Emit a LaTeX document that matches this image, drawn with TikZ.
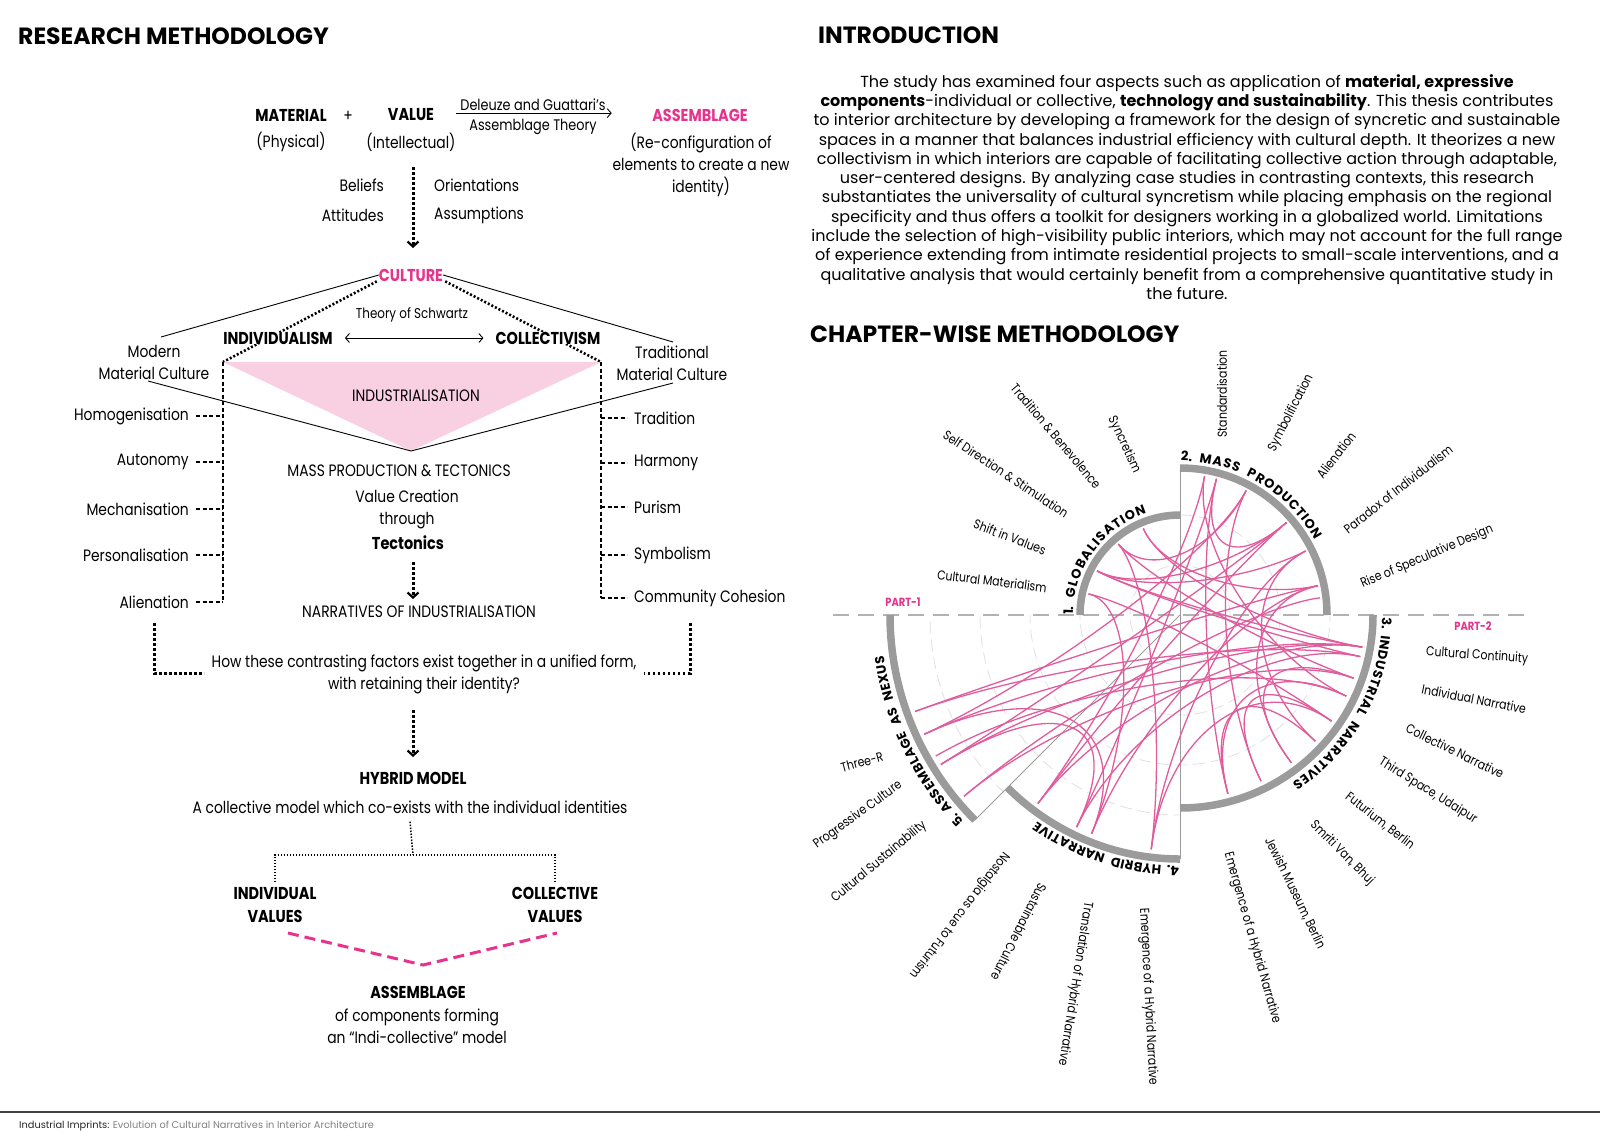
\documentclass[tikz,border=0pt]{standalone}
\usepackage{fontspec}
\setmainfont{Poppins}
\newfontfamily\narrowfont[FakeStretch=0.84]{Poppins}
\usepackage{tikz}
\usetikzlibrary{arrows.meta,calc}
\definecolor{hotpink}{HTML}{E6338D}
\definecolor{chordpink}{HTML}{E05C9C}
\definecolor{palepink}{HTML}{F9CFE2}
\definecolor{arcgray}{HTML}{9B9B9B}
\newcommand{\arcfont}{\bfseries\fontsize{13}{15}\selectfont}
% letters set one by one along a clockwise arc: radius, start angle, unit step, letter/weight list
\newcommand{\arctext}[4]{%
  \xdef\curang{#2}%
  \foreach \ch/\chwt in {#4}{%
    \pgfmathsetmacro{\chalf}{\chwt*#3/2/#1*180/pi}%
    \pgfmathsetmacro{\cmid}{\curang-\chalf}%
    \node[rotate=\cmid-90,inner sep=0pt,anchor=base,font=\arcfont] at (\cmid:#1) {\ch};
    \pgfmathsetmacro{\cnext}{\curang-2*\chalf}%
    \xdef\curang{\cnext}%
  }}
\tikzset{
>={Straight Barb[length=4pt,width=9pt]},
plain text/.style={font=\narrowfont\fontsize{16.5}{22}\selectfont,inner sep=0pt},
bold text/.style={font=\narrowfont\bfseries\fontsize{17.2}{22.5}\selectfont,inner sep=0pt},
mid text/.style={font=\narrowfont\fontsize{15.3}{20}\selectfont,inner sep=0pt},
small text/.style={font=\narrowfont\fontsize{14.2}{18}\selectfont,inner sep=0pt},
heading/.style={font=\bfseries\fontsize{23.5}{27}\selectfont,anchor=west,inner sep=0pt},
ray label/.style={font=\narrowfont\fontsize{13}{15}\selectfont,inner sep=0pt},
part label/.style={font=\narrowfont\bfseries\fontsize{11.8}{13}\selectfont,text=hotpink,inner sep=0pt},
dot arrow/.style={line width=3pt,dash pattern=on 2.5pt off 2.5pt,-{Straight Barb[length=5pt,width=11pt,line width=2.2pt]}},
big dots/.style={line width=3pt,dash pattern=on 2.5pt off 2.5pt},
slant dots/.style={line width=2.6pt,dash pattern=on 2pt off 2pt},
fine dash/.style={line width=1.3pt,dash pattern=on 4pt off 2.5pt},
fine dots/.style={line width=1.5pt,dash pattern=on 1.5pt off 1.5pt},
pink dash/.style={hotpink,line width=3pt,dash pattern=on 11pt off 6pt},
thin line/.style={line width=0.9pt},
seg arc/.style={arcgray,line width=7.5pt},
radial/.style={arcgray,line width=0.8pt},
grid circle/.style={black!12,line width=0.8pt,dash pattern=on 12pt off 6pt},
part line/.style={black!30,line width=1.6pt,dash pattern=on 16pt off 9pt},
chord/.style={chordpink,line width=1.3pt}
}

\begin{document}
\begin{tikzpicture}[x=1pt,y=1pt]
\useasboundingbox (0,0) rectangle (1600,-1141);

% headings
\node[heading] (rmhead) at (18,-36) {RESEARCH METHODOLOGY};
\node[heading] (inhead) at (818,-35) {INTRODUCTION};
\node[heading] (cwhead) at (810,-334) {CHAPTER-WISE METHODOLOGY};

% introduction
\node[font=\fontsize{16}{19.3}\selectfont,align=center,inner sep=0pt] (intro) at (1187,-187) {%
The study has examined four aspects such as application of \textbf{material, expressive}\\
\textbf{components}-individual or collective, \textbf{technology and sustainability}. This thesis contributes\\
to interior architecture by developing a framework for the design of syncretic and sustainable\\
spaces in a manner that balances industrial efficiency with cultural depth. It theorizes a new\\
collectivism in which interiors are capable of facilitating collective action through adaptable,\\
user-centered designs. By analyzing case studies in contrasting contexts, this research\\
substantiates the universality of cultural syncretism while placing emphasis on the regional\\
specificity and thus offers a toolkit for designers working in a globalized world. Limitations\\
include the selection of high-visibility public interiors, which may not account for the full range\\
of experience extending from intimate residential projects to small-scale interventions, and a\\
qualitative analysis that would certainly benefit from a comprehensive quantitative study in\\
the future.};

% research methodology: top row
\node[bold text] (material) at (291,-115) {MATERIAL};
\node[plain text] (physical) at (291,-142) {(Physical)};
\node[plain text] (plus) at (348,-116) {+};
\node[bold text] (value) at (411,-115) {VALUE};
\node[plain text] (intellect) at (411,-142) {(Intellectual)};
\node[mid text] (deleuze) at (533,-105) {Deleuze and Guattari’s};
\node[mid text] (theory) at (533,-127) {Assemblage Theory};
\draw[thin line,->] ([xshift=-4pt,yshift=-2pt]deleuze.south west) -- ([xshift=6pt,yshift=-2pt]deleuze.south east);
\node[bold text,text=hotpink] (assem) at (700,-115) {ASSEMBLAGE};
\node[plain text,align=center] (reconf) at (701,-165) {(Re-configuration of\\elements to create a new\\identity)};

\coordinate (vtop) at (413,-167);
\coordinate (vbot) at (413,-248);
\draw[dot arrow] (vtop) -- (vbot);
\node[plain text,anchor=east] (beliefs) at (384,-185) {Beliefs};
\node[plain text,anchor=east] (attitudes) at (384,-215) {Attitudes};
\node[plain text,anchor=west] (orient) at (434,-185) {Orientations};
\node[plain text,anchor=west] (assume) at (434,-215) {Assumptions};

% culture and the two sides
\node[bold text,text=hotpink] (culture) at (411,-275) {CULTURE};
\coordinate (modtop) at (161,-337);
\coordinate (tradtop) at (673,-342);
\coordinate (tl) at (223,-362);
\coordinate (tr) at (601,-362);
\coordinate (tb) at (411,-451);
\draw[thin line] (culture.west) -- (modtop);
\draw[thin line] (culture.east) -- (tradtop);
\draw[slant dots] ([xshift=-2pt]culture.south west) -- (tl);
\draw[slant dots] ([xshift=2pt]culture.south east) -- (tr);
\node[small text] (schwartz) at (412,-315) {Theory of Schwartz};
\node[bold text,fill=white] (indiv) at (278,-338) {INDIVIDUALISM};
\node[bold text,fill=white] (collect) at (548,-338) {COLLECTIVISM};
\draw[thin line,<->] ([xshift=12pt]indiv.east) -- ([xshift=-12pt]collect.west);
\node[plain text,align=center] (modern) at (154,-362) {Modern\\Material Culture};
\node[plain text,align=center] (trad) at (672,-363) {Traditional\\Material Culture};

\fill[palepink] (tl) -- (tr) -- (tb) -- cycle;
\node[plain text] (industr) at (416,-396) {INDUSTRIALISATION};
\coordinate (modbot) at (148,-381);
\coordinate (tradbot) at (673,-383);
\draw[thin line] (modbot) -- (tb) -- (tradbot);

% brackets
\foreach \y/\t [count=\i] in {416/Homogenisation,462/Autonomy,509/Mechanisation,555/Personalisation,602/Alienation}{
  \node[plain text,anchor=east] (lf\i) at (189,-\y) {\t};
  \draw[fine dash] ([xshift=7pt]lf\i.east) -- (lf\i.east -| tl);
}
\draw[fine dash] (tl) -- (lf5.east -| tl);
\foreach \y/\t [count=\i] in {418/Tradition,463/Harmony,507/Purism,555/Symbolism,598/Community Cohesion}{
  \node[plain text,anchor=west] (rt\i) at (634,-\y) {\t};
  \draw[fine dash] (rt\i.west -| tr) -- ([xshift=-7pt]rt\i.west);
}
\draw[fine dash] (tr) -- (rt5.west -| tr);

% middle
\node[plain text] (massprod) at (399,-471) {MASS PRODUCTION \& TECTONICS};
\node[plain text,align=center] (valcreat) at (407,-509) {Value Creation\\through};
\node[bold text] (tecton) at (408,-543) {Tectonics};
\coordinate (atop) at (413,-562);
\coordinate (abot) at (413,-599);
\draw[dot arrow] (atop) -- (abot);
\node[plain text] (narr) at (419,-612) {NARRATIVES OF INDUSTRIALISATION};

\coordinate (blt) at (154,-623);
\coordinate (blc) at (154,-673);
\coordinate (blr) at (204,-673);
\coordinate (brt) at (690,-623);
\coordinate (brc) at (690,-673);
\coordinate (brl) at (644,-673);
\draw[big dots] (blt) -- (blc) -- (blr);
\draw[big dots] (brt) -- (brc) -- (brl);
\node[plain text,align=center] (how) at (424,-674) {How these contrasting factors exist together in a unified form,\\with retaining their identity?};

\coordinate (htop) at (413,-710);
\coordinate (hbot) at (413,-757);
\draw[dot arrow] (htop) -- (hbot);
\node[bold text] (hybrid) at (413,-778) {HYBRID MODEL};
\node[plain text] (collmodel) at (410,-807) {A collective model which co-exists with the individual identities};
\coordinate (treemid) at (413,-855);
\draw[fine dots] ([yshift=-8pt]collmodel.south) -- (treemid);
\node[bold text,align=center] (indval) at (275,-905) {INDIVIDUAL\\VALUES};
\node[bold text,align=center] (colval) at (555,-905) {COLLECTIVE\\VALUES};
\draw[fine dots] ([yshift=5pt]indval.north) |- (treemid) -| ([yshift=5pt]colval.north);
\coordinate (pinkl) at (288,-933);
\coordinate (pinkv) at (423,-965);
\coordinate (pinkr) at (557,-933);
\draw[pink dash] (pinkl) -- (pinkv) -- (pinkr);
\node[bold text] (assem2) at (418,-992) {ASSEMBLAGE};
\node[plain text,align=center] (components) at (417,-1026) {of components forming\\an “Indi-collective” model};

% chapter-wise chord diagram
\begin{scope}[shift={(1180,-615)}]
  \begin{scope}
    \clip (90:147) arc[start angle=90,end angle=0,radius=147] -- (0:193)
      arc[start angle=0,end angle=-90,radius=193] -- (-90:244)
      arc[start angle=-90,end angle=-135,radius=244] -- (-135:290)
      arc[start angle=-135,end angle=-180,radius=290] -- (180:100)
      arc[start angle=180,end angle=90,radius=100] -- cycle;
    \foreach \r in {50,100,...,250}
      \draw[grid circle] (0,0) circle (\r);
  \end{scope}
  \coordinate (cen) at (0,0);
  \coordinate (pl) at (-347,0);
  \coordinate (pr) at (345,0);
  \draw[part line] (pl) -- (pr);
  \coordinate (vtop2) at (90:147);
  \coordinate (vbot2) at (-90:244);
  \coordinate (diag) at (-135:290);
  \draw[radial] (vtop2) -- (vbot2);
  \draw[radial] (cen) -- (diag);

  % chords
  \foreach \a/\ra/\b/\rb in {152/94/27/141, 152/94/41/141, 152/94/-10/185, 152/94/-13/185,
    113/94/-10/185, 113/94/12/141, 131/94/-20/185, 131/94/62/141, 167/94/-35/185, 167/94/-112/236,
    75/141/-75/185, 75/141/41/141, 75/141/-116/236, 62/141/-64/185, 62/141/-155/282,
    41/141/-127/236, 41/141/-148/282, 27/141/-97/236, 27/141/-43/185, 12/141/-160/282,
    12/141/-112/236, 12/141/-53/185, 7/141/-140/282, 80/141/-26/185, -10/185/-155/282,
    -10/185/-148/282, -10/185/-127/236, -13/185/-160/282, -13/185/-116/236, -20/185/-140/282,
    -20/185/-53/185, -26/185/-150/282, -26/185/-75/185, -35/185/-97/236, -35/185/-64/185,
    -43/185/-75/185, -155/282/-112/236, -148/282/-116/236, -97/236/131/94, -127/236/80/141}
    \draw[chord] (\a:\ra) .. controls (\a:{0.5*\ra}) and (\b:{0.5*\rb}) .. (\b:\rb);

  % segments
  \draw[seg arc] (180:100) arc[start angle=180,end angle=90,radius=100];
  \draw[seg arc] (90:147) arc[start angle=90,end angle=0,radius=147];
  \draw[seg arc] (0:193) arc[start angle=0,end angle=-90,radius=193];
  \draw[seg arc] (-90:244) arc[start angle=-90,end angle=-135,radius=244];
  \draw[seg arc] (-135:290) arc[start angle=-135,end angle=-180,radius=290];

  \arctext{107}{180}{10.2}{1./0.85,{}/0.7,G/1.05,L/0.8,O/1.1,B/0.95,A/1.05,L/0.8,I/0.45,S/0.9,A/1.05,T/0.9,I/0.45,O/1.1,N/1.05}
  \arctext{154}{89.5}{10.1}{2./1.0,{}/0.7,M/1.3,A/1.05,S/0.9,S/0.9,{}/0.7,P/0.95,R/0.95,O/1.1,D/1.05,U/1.0,C/1.0,T/0.9,I/0.45,O/1.1,N/1.05}
  \arctext{202}{-1}{9.7}{3./1.0,{}/0.7,I/0.45,N/1.05,D/1.05,U/1.0,S/0.9,T/0.9,R/0.95,I/0.45,A/1.05,L/0.8,{}/0.7,N/1.05,A/1.05,R/0.95,R/0.95,A/1.05,T/0.9,I/0.45,V/1.0,E/0.85,S/0.9}
  \arctext{251}{-90.5}{9.4}{4./1.0,{}/0.7,H/1.05,Y/0.95,B/0.95,R/0.95,I/0.45,D/1.05,{}/0.7,N/1.05,A/1.05,R/0.95,R/0.95,A/1.05,T/0.9,I/0.45,V/1.0,E/0.85}
  \arctext{299}{-136.5}{9.55}{5./1.0,{}/0.7,A/1.05,S/0.9,S/0.9,E/0.85,M/1.3,B/0.95,L/0.8,A/1.05,G/1.05,E/0.85,{}/0.7,A/1.05,S/0.9,{}/0.7,N/1.05,E/0.85,X/1.0,U/1.0,S/0.9}
\end{scope}

% ray labels
\foreach \x/\y/\r/\t [count=\i] in {1222/394/90/Standardisation, 1291/413/63/Symbolification,
  1336/455/52/Alienation, 1398/489/38/Paradox of Individualism, 1427/557/23/Rise of Speculative Design,
  1124/445/-65/Syncretism, 1056/436/-50/Tradition \& Benevolence, 1006/474/-33.5/Self Direction \& Stimulation,
  1010/537/-21/Shift in Values, 992/581/-7/Cultural Materialism, 1477/656/-4/Cultural Continuity,
  1474/699/-11/Individual Narrative, 1455/751/-26/Collective Narrative, 1428/791/-32/{Third Space, Udaipur},
  1380/821/-38/{Futurium, Berlin}, 1342/853/-45/{Smriti Van, Bhuj}, 1295/893/-64/{Jewish Museum, Berlin},
  1252/938/-74/Emergence of a Hybrid Narrative, 1148/997/-87/Emergence of a Hybrid Narrative,
  1075/984/-99/Translation of Hybrid Narrative, 1019/932/-117/Sustainable Culture,
  959/915/-127.5/Nostalgia as cue to Futurism, 879/862/40/Cultural Sustainability,
  858/815/36/Progressive Culture, 862/762/15/Three-R}
  \node[ray label,rotate=\r] (ray\i) at (\x,-\y) {\t};
\node[part label] (part1) at (903,-602) {PART-1};
\node[part label] (part2) at (1473,-626) {PART-2};

% footer
\coordinate (fl) at (0,-1112);
\coordinate (fr) at (1600,-1112);
\draw[black!75,line width=1.8pt] (fl) -- (fr);
\node[anchor=west,inner sep=0pt,font=\fontsize{9.8}{11}\selectfont] (footer) at (19,-1126)
  {\textcolor{black!85}{Industrial Imprints:} \textcolor{black!50}{Evolution of Cultural Narratives in Interior Architecture}};
\end{tikzpicture}
\end{document}
